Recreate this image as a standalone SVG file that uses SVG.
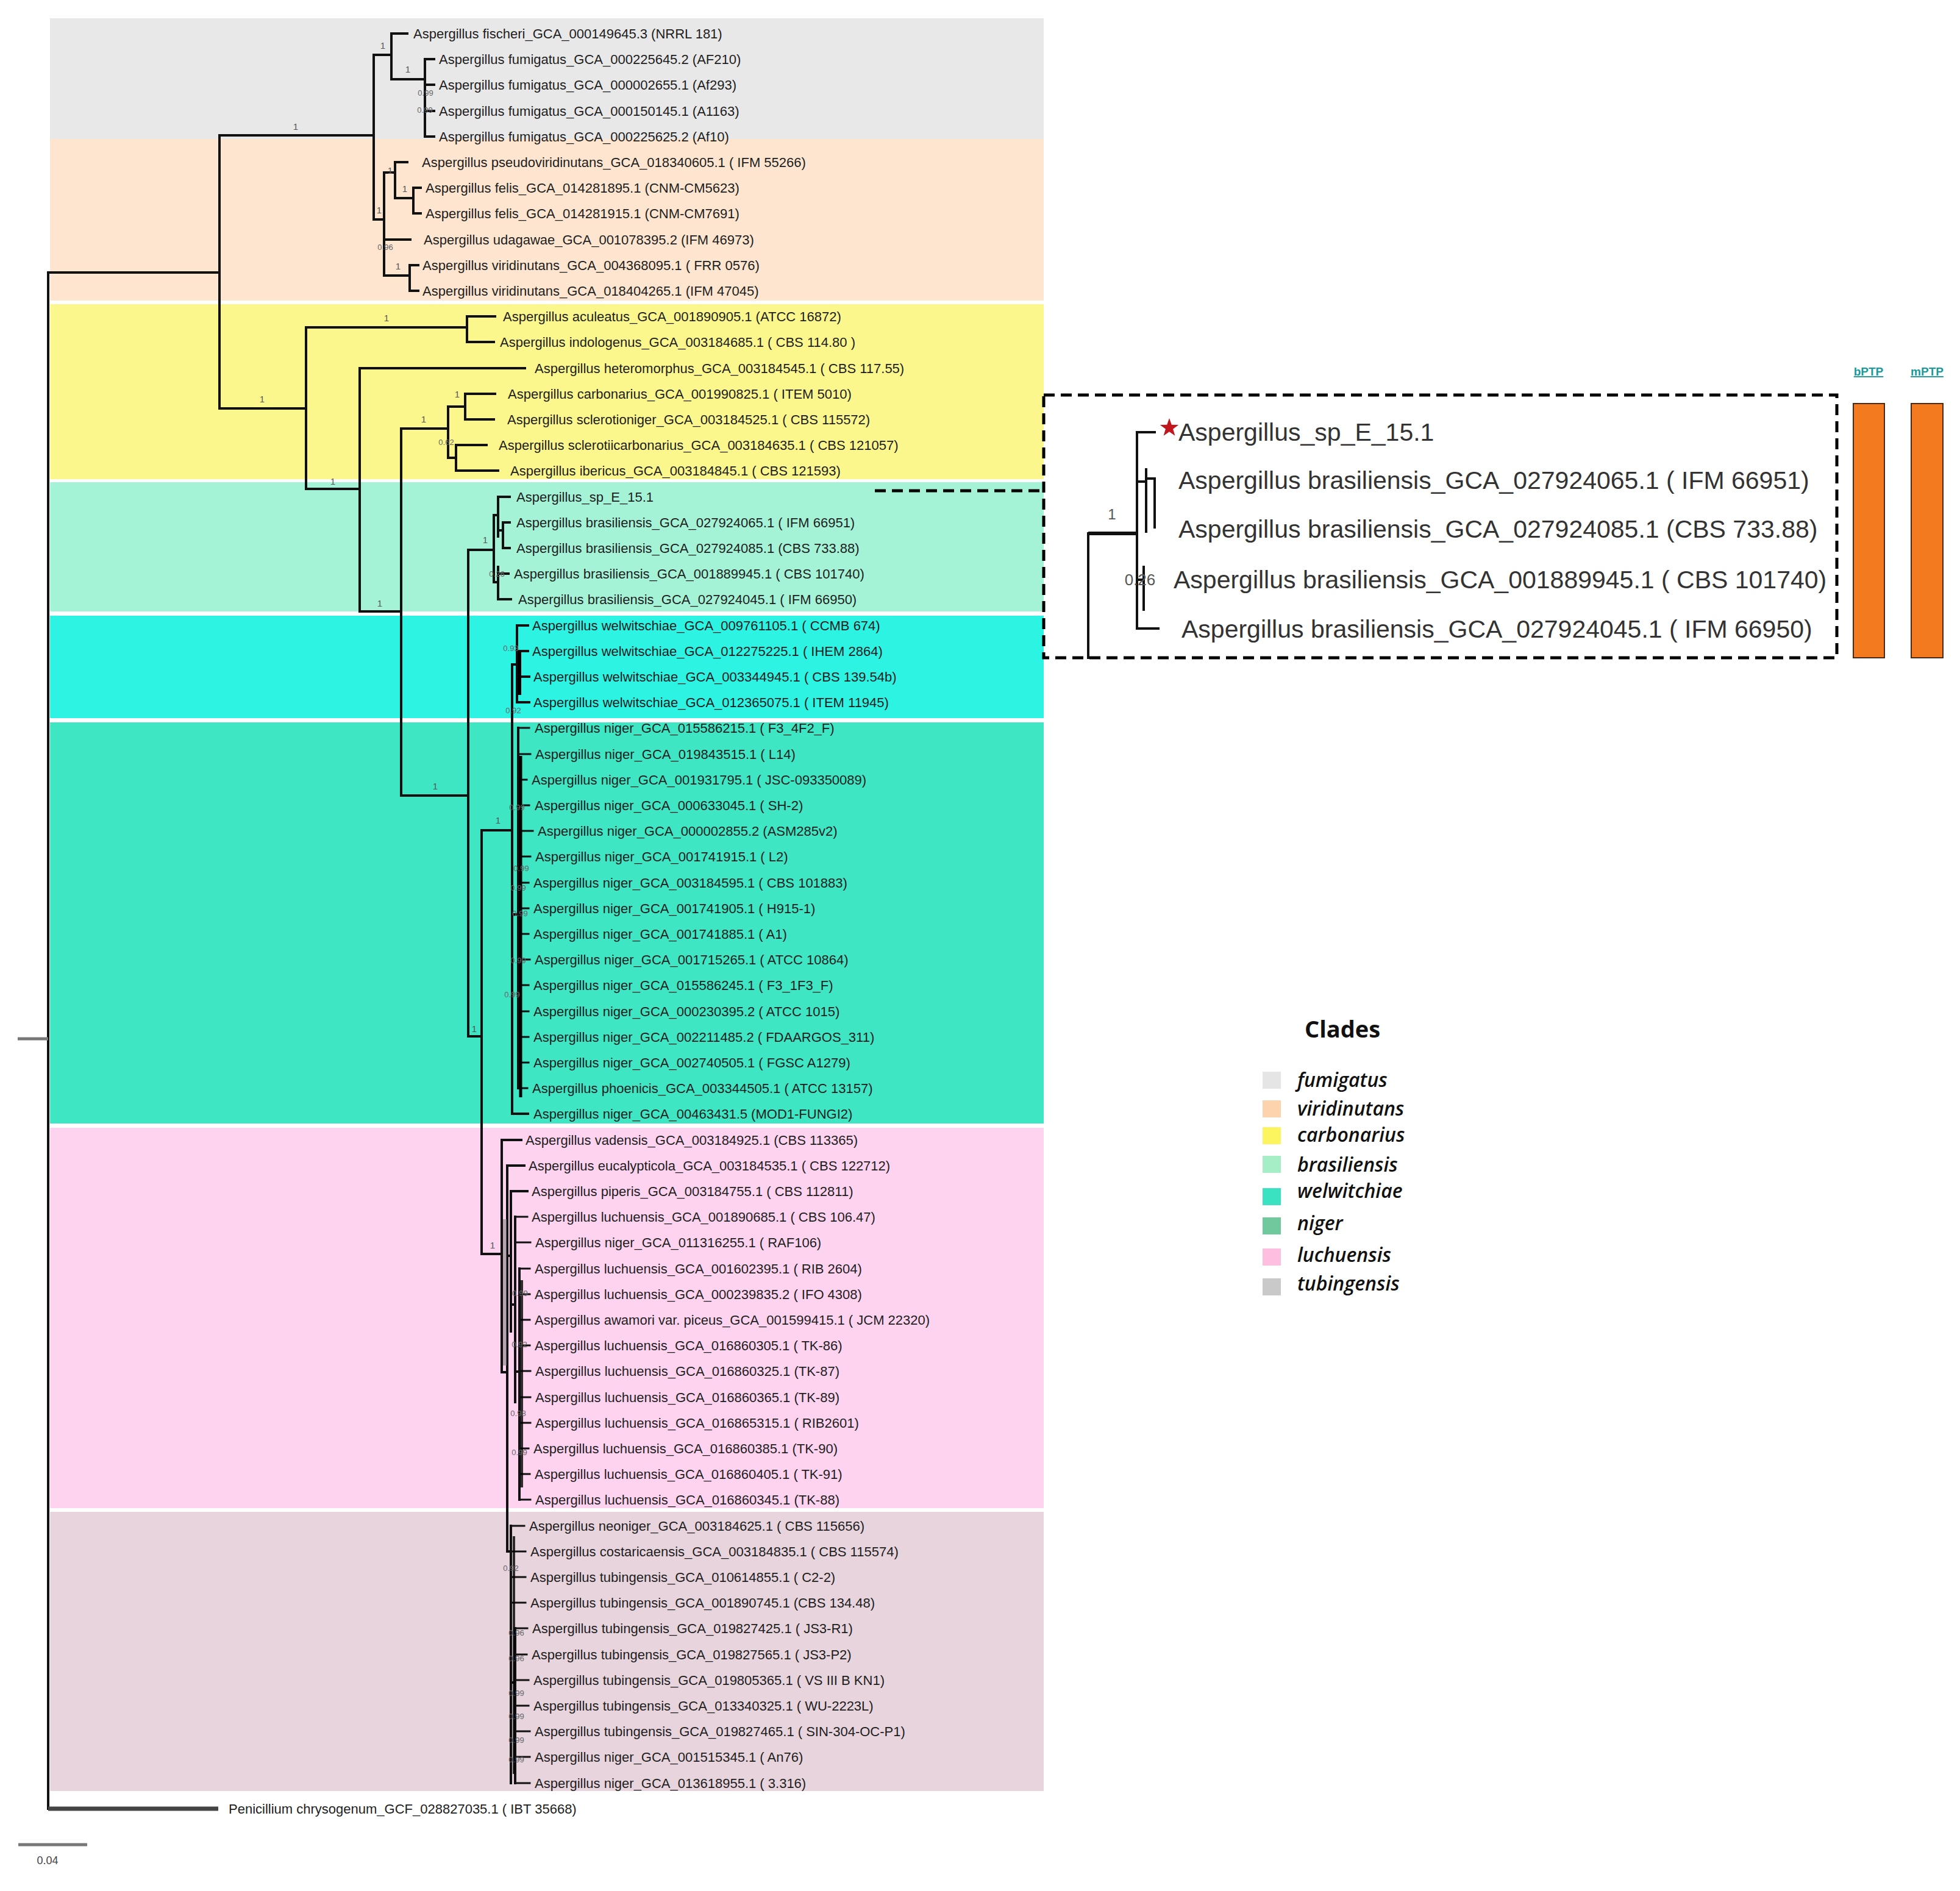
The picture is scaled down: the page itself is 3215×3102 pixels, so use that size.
<svg xmlns="http://www.w3.org/2000/svg" width="3215" height="3102" viewBox="0 0 3215 3102">
<style>
.leaf{font-family:"Liberation Sans",Arial,sans-serif;font-size:22px;fill:#1e1e1e}
.ins{font-family:"Liberation Sans",Arial,sans-serif;font-size:41px;fill:#333}
.sup{font-family:"Liberation Sans",Arial,sans-serif;font-size:13px;fill:#666;text-anchor:middle}
.sup1{font-family:"Liberation Sans",Arial,sans-serif;font-size:15px;fill:#555;text-anchor:middle}
.br{stroke:#111;stroke-width:4;fill:none;stroke-linecap:square}
.tn{stroke:#111;stroke-width:3;fill:none;stroke-linecap:square}
.tk{stroke:#000;stroke-width:6;fill:none}
.dash{stroke:#000;stroke-width:5;fill:none;stroke-dasharray:18 10}
.lg{font-family:"Open Sans","DejaVu Sans",sans-serif;font-style:italic;font-weight:600;font-size:32px;fill:#111}
.ptp{font-family:"Liberation Sans",Arial,sans-serif;font-weight:bold;font-size:19px;fill:#179a9a;text-anchor:middle;text-decoration:underline}
.bar{fill:#F47A20;stroke:#4a2a10;stroke-width:2}
</style>
<rect width="3215" height="3102" fill="#fff"/>
<g id="clade-bands">
<rect x="82" y="30" width="1630" height="198" fill="#E8E8E8"/>
<rect x="82" y="228" width="1630" height="265" fill="#FDE5CF"/>
<rect x="82" y="499" width="1630" height="287" fill="#FBF78D"/>
<rect x="82" y="791" width="1630" height="212" fill="#A4F3D6"/>
<rect x="82" y="1010" width="1630" height="168" fill="#2DF3E3"/>
<rect x="82" y="1185" width="1630" height="658" fill="#3EE6C4"/>
<rect x="82" y="1850" width="1630" height="624" fill="#FED3F0"/>
<rect x="82" y="2480" width="1630" height="458" fill="#E8D4DD"/>
</g>
<g id="branches">
<path class="br" d="M79,447 V2967 M79,447 H360 M360,222 V670 M360,222 H613 M360,670 H502"/>
<path d="M29,1704 H79" stroke="#777" stroke-width="5"/>
<path d="M79,2967 H358" stroke="#444" stroke-width="7"/>
<path class="br" d="M613,90 V360 M613,90 H642 M642,55 V130 M642,55 H668 M642,130 H697 M697,97 V224 M697,97 H712 M697,139 H712 M697,182 H712 M697,224 H712"/>
<path class="br" d="M613,360 H630 M630,283 V452 M630,283 H648 M648,266 V325 M648,266 H668 M648,325 H678 M678,308 V350 M678,308 H690 M678,350 H690 M630,393 H673 M630,452 H672 M672,435 V477 M672,435 H686 M672,477 H686"/>
<path class="br" d="M502,537 V802 M502,537 H766 M766,519 V561 M766,519 H812 M766,561 H810 M502,802 H590 M590,604 V1003 M590,604 H861 M590,1003 H658 M658,703 V1305 M658,703 H735 M735,667 V751 M735,667 H763 M763,646 V688 M763,646 H812 M763,688 H810 M735,751 H748 M748,730 V772 M748,730 H798 M748,772 H817"/>
<path class="br" d="M658,1305 H768 M768,902 V1700 M768,902 H810 M810,845 V955 M810,845 H817 M817,815 V880 M817,815 H836 M817,870 H825 M825,857 V899 M825,857 H836 M825,899 H836 M810,955 H817 M817,930 V983 M817,941 H834 M817,983 H838"/>
<path class="br" d="M768,1700 H790 M790,1362 V2057 M790,1362 H840 M840,1090 V1827 M840,1090 H848 M848,1026 V1152 M848,1026 H866 M848,1068 H866 M848,1110 H868 M848,1152 H868 M840,1500 H850 M850,1194 V1785 M840,1827 H866"/>
<path class="tk" d="M852,1068 V1140"/>
<path class="tn" d="M850,1194 H868 M850,1237 H870 M850,1279 H864 M850,1321 H868 M850,1363 H874 M850,1405 H870 M850,1448 H867 M850,1490 H867 M850,1532 H867 M850,1574 H869 M850,1616 H867 M850,1659 H867 M850,1701 H867 M850,1743 H867 M850,1785 H865"/>
<path d="M854,1240 V1800" stroke="#000" stroke-width="5"/>
<path class="br" d="M790,2057 H823 M823,1870 V2251 M823,1870 H855 M823,2251 H832 M832,1912 V2545 M832,1912 H860 M832,2060 H838 M838,1954 V2184 M838,1954 H865 M838,2140 H845 M845,1996 V2300 M845,2250 H852 M852,2081 V2460 M832,2545 H838 M838,2503 V2925 M838,2760 H845 M845,2671 V2925"/>
<path class="tn" d="M845,1996 H865 M845,2038 H870 M852,2081 H869 M852,2123 H869 M852,2165 H869 M852,2207 H869 M852,2249 H870 M852,2292 H870 M852,2334 H870 M852,2376 H867 M852,2418 H869 M852,2460 H870 M838,2503 H860 M838,2545 H862 M838,2587 H862 M838,2629 H862 M845,2671 H865 M845,2714 H864 M845,2756 H867 M845,2798 H867 M845,2840 H869 M845,2882 H869 M845,2925 H869"/>
<path d="M856,2100 V2440 M843,2520 V2910" stroke="#000" stroke-width="4" opacity="0.8"/>
<path d="M828,2000 V2240" stroke="#888" stroke-width="6" opacity="0.6"/>
<path class="dash" d="M1435,805 H1712"/>
</g>
<g id="support-values">
<text class="sup1" x="485" y="213">1</text>
<text class="sup1" x="430" y="660">1</text>
<text class="sup1" x="628" y="80">1</text>
<text class="sup1" x="669" y="119">1</text>
<text class="sup" x="698" y="157">0.99</text>
<text class="sup" x="697" y="185">0.99</text>
<text class="sup1" x="622" y="350">1</text>
<text class="sup1" x="640" y="285">1</text>
<text class="sup1" x="664" y="315">1</text>
<text class="sup" x="632" y="410">0.96</text>
<text class="sup1" x="653" y="442">1</text>
<text class="sup1" x="634" y="527">1</text>
<text class="sup1" x="546" y="795">1</text>
<text class="sup1" x="695" y="693">1</text>
<text class="sup1" x="750" y="652">1</text>
<text class="sup" x="732" y="730">0.62</text>
<text class="sup1" x="623" y="995">1</text>
<text class="sup1" x="714" y="1295">1</text>
<text class="sup1" x="796" y="891">1</text>
<text class="sup" x="815" y="946">0.26</text>
<text class="sup" x="838" y="1068">0.93</text>
<text class="sup" x="842" y="1170">0.92</text>
<text class="sup1" x="817" y="1351">1</text>
<text class="sup1" x="778" y="1693">1</text>
<text class="sup" x="848" y="1329">0.99</text>
<text class="sup" x="855" y="1429">0.99</text>
<text class="sup" x="850" y="1461">0.99</text>
<text class="sup" x="853" y="1503">0.99</text>
<text class="sup" x="850" y="1580">0.99</text>
<text class="sup" x="840" y="1636">0.99</text>
<text class="sup1" x="808" y="2048">1</text>
<text class="sup" x="853" y="2126">0.99</text>
<text class="sup" x="852" y="2210">0.92</text>
<text class="sup" x="850" y="2323">0.98</text>
<text class="sup" x="852" y="2387">0.99</text>
<text class="sup" x="838" y="2577">0.92</text>
<text class="sup" x="847" y="2683">0.96</text>
<text class="sup" x="847" y="2725">0.96</text>
<text class="sup" x="847" y="2782">0.99</text>
<text class="sup" x="847" y="2820">0.99</text>
<text class="sup" x="847" y="2859">0.99</text>
<text class="sup" x="847" y="2891">0.99</text>
</g>
<g id="leaves">
<g id="leaf-1"><text class="leaf" x="678" y="63">Aspergillus fischeri_GCA_000149645.3 (NRRL 181)</text></g>
<g id="leaf-2"><text class="leaf" x="720" y="105">Aspergillus fumigatus_GCA_000225645.2 (AF210)</text></g>
<g id="leaf-3"><text class="leaf" x="720" y="147">Aspergillus fumigatus_GCA_000002655.1 (Af293)</text></g>
<g id="leaf-4"><text class="leaf" x="720" y="190">Aspergillus fumigatus_GCA_000150145.1 (A1163)</text></g>
<g id="leaf-5"><text class="leaf" x="720" y="232">Aspergillus fumigatus_GCA_000225625.2 (Af10)</text></g>
<g id="leaf-6"><text class="leaf" x="692" y="274">Aspergillus pseudoviridinutans_GCA_018340605.1 ( IFM 55266)</text></g>
<g id="leaf-7"><text class="leaf" x="698" y="316">Aspergillus felis_GCA_014281895.1 (CNM-CM5623)</text></g>
<g id="leaf-8"><text class="leaf" x="698" y="358">Aspergillus felis_GCA_014281915.1 (CNM-CM7691)</text></g>
<g id="leaf-9"><text class="leaf" x="695" y="401">Aspergillus udagawae_GCA_001078395.2 (IFM 46973)</text></g>
<g id="leaf-10"><text class="leaf" x="693" y="443">Aspergillus viridinutans_GCA_004368095.1 ( FRR 0576)</text></g>
<g id="leaf-11"><text class="leaf" x="693" y="485">Aspergillus viridinutans_GCA_018404265.1 (IFM 47045)</text></g>
<g id="leaf-12"><text class="leaf" x="825" y="527">Aspergillus aculeatus_GCA_001890905.1 (ATCC 16872)</text></g>
<g id="leaf-13"><text class="leaf" x="820" y="569">Aspergillus indologenus_GCA_003184685.1 ( CBS 114.80 )</text></g>
<g id="leaf-14"><text class="leaf" x="877" y="612">Aspergillus heteromorphus_GCA_003184545.1 ( CBS 117.55)</text></g>
<g id="leaf-15"><text class="leaf" x="833" y="654">Aspergillus carbonarius_GCA_001990825.1 ( ITEM 5010)</text></g>
<g id="leaf-16"><text class="leaf" x="832" y="696">Aspergillus sclerotioniger_GCA_003184525.1 ( CBS 115572)</text></g>
<g id="leaf-17"><text class="leaf" x="818" y="738">Aspergillus sclerotiicarbonarius_GCA_003184635.1 ( CBS 121057)</text></g>
<g id="leaf-18"><text class="leaf" x="837" y="780">Aspergillus ibericus_GCA_003184845.1 ( CBS 121593)</text></g>
<g id="leaf-19"><text class="leaf" x="847" y="823">Aspergillus_sp_E_15.1</text></g>
<g id="leaf-20"><text class="leaf" x="847" y="865">Aspergillus brasiliensis_GCA_027924065.1 ( IFM 66951)</text></g>
<g id="leaf-21"><text class="leaf" x="847" y="907">Aspergillus brasiliensis_GCA_027924085.1 (CBS 733.88)</text></g>
<g id="leaf-22"><text class="leaf" x="843" y="949">Aspergillus brasiliensis_GCA_001889945.1 ( CBS 101740)</text></g>
<g id="leaf-23"><text class="leaf" x="850" y="991">Aspergillus brasiliensis_GCA_027924045.1 ( IFM 66950)</text></g>
<g id="leaf-24"><text class="leaf" x="873" y="1034">Aspergillus welwitschiae_GCA_009761105.1 ( CCMB 674)</text></g>
<g id="leaf-25"><text class="leaf" x="873" y="1076">Aspergillus welwitschiae_GCA_012275225.1 ( IHEM 2864)</text></g>
<g id="leaf-26"><text class="leaf" x="875" y="1118">Aspergillus welwitschiae_GCA_003344945.1 ( CBS 139.54b)</text></g>
<g id="leaf-27"><text class="leaf" x="875" y="1160">Aspergillus welwitschiae_GCA_012365075.1 ( ITEM 11945)</text></g>
<g id="leaf-28"><text class="leaf" x="877" y="1202">Aspergillus niger_GCA_015586215.1 ( F3_4F2_F)</text></g>
<g id="leaf-29"><text class="leaf" x="878" y="1245">Aspergillus niger_GCA_019843515.1 ( L14)</text></g>
<g id="leaf-30"><text class="leaf" x="872" y="1287">Aspergillus niger_GCA_001931795.1 ( JSC-093350089)</text></g>
<g id="leaf-31"><text class="leaf" x="877" y="1329">Aspergillus niger_GCA_000633045.1 ( SH-2)</text></g>
<g id="leaf-32"><text class="leaf" x="882" y="1371">Aspergillus niger_GCA_000002855.2 (ASM285v2)</text></g>
<g id="leaf-33"><text class="leaf" x="878" y="1413">Aspergillus niger_GCA_001741915.1 ( L2)</text></g>
<g id="leaf-34"><text class="leaf" x="875" y="1456">Aspergillus niger_GCA_003184595.1 ( CBS 101883)</text></g>
<g id="leaf-35"><text class="leaf" x="875" y="1498">Aspergillus niger_GCA_001741905.1 ( H915-1)</text></g>
<g id="leaf-36"><text class="leaf" x="875" y="1540">Aspergillus niger_GCA_001741885.1 ( A1)</text></g>
<g id="leaf-37"><text class="leaf" x="877" y="1582">Aspergillus niger_GCA_001715265.1 ( ATCC 10864)</text></g>
<g id="leaf-38"><text class="leaf" x="875" y="1624">Aspergillus niger_GCA_015586245.1 ( F3_1F3_F)</text></g>
<g id="leaf-39"><text class="leaf" x="875" y="1667">Aspergillus niger_GCA_000230395.2 ( ATCC 1015)</text></g>
<g id="leaf-40"><text class="leaf" x="875" y="1709">Aspergillus niger_GCA_002211485.2 ( FDAARGOS_311)</text></g>
<g id="leaf-41"><text class="leaf" x="875" y="1751">Aspergillus niger_GCA_002740505.1 ( FGSC A1279)</text></g>
<g id="leaf-42"><text class="leaf" x="873" y="1793">Aspergillus phoenicis_GCA_003344505.1 ( ATCC 13157)</text></g>
<g id="leaf-43"><text class="leaf" x="875" y="1835">Aspergillus niger_GCA_00463431.5 (MOD1-FUNGI2)</text></g>
<g id="leaf-44"><text class="leaf" x="862" y="1878">Aspergillus vadensis_GCA_003184925.1 (CBS 113365)</text></g>
<g id="leaf-45"><text class="leaf" x="867" y="1920">Aspergillus eucalypticola_GCA_003184535.1 ( CBS 122712)</text></g>
<g id="leaf-46"><text class="leaf" x="872" y="1962">Aspergillus piperis_GCA_003184755.1 ( CBS 112811)</text></g>
<g id="leaf-47"><text class="leaf" x="872" y="2004">Aspergillus luchuensis_GCA_001890685.1 ( CBS 106.47)</text></g>
<g id="leaf-48"><text class="leaf" x="878" y="2046">Aspergillus niger_GCA_011316255.1 ( RAF106)</text></g>
<g id="leaf-49"><text class="leaf" x="877" y="2089">Aspergillus luchuensis_GCA_001602395.1 ( RIB 2604)</text></g>
<g id="leaf-50"><text class="leaf" x="877" y="2131">Aspergillus luchuensis_GCA_000239835.2 ( IFO 4308)</text></g>
<g id="leaf-51"><text class="leaf" x="877" y="2173">Aspergillus awamori var. piceus_GCA_001599415.1 ( JCM 22320)</text></g>
<g id="leaf-52"><text class="leaf" x="877" y="2215">Aspergillus luchuensis_GCA_016860305.1 ( TK-86)</text></g>
<g id="leaf-53"><text class="leaf" x="878" y="2257">Aspergillus luchuensis_GCA_016860325.1 (TK-87)</text></g>
<g id="leaf-54"><text class="leaf" x="878" y="2300">Aspergillus luchuensis_GCA_016860365.1 (TK-89)</text></g>
<g id="leaf-55"><text class="leaf" x="878" y="2342">Aspergillus luchuensis_GCA_016865315.1 ( RIB2601)</text></g>
<g id="leaf-56"><text class="leaf" x="875" y="2384">Aspergillus luchuensis_GCA_016860385.1 (TK-90)</text></g>
<g id="leaf-57"><text class="leaf" x="877" y="2426">Aspergillus luchuensis_GCA_016860405.1 ( TK-91)</text></g>
<g id="leaf-58"><text class="leaf" x="878" y="2468">Aspergillus luchuensis_GCA_016860345.1 (TK-88)</text></g>
<g id="leaf-59"><text class="leaf" x="868" y="2511">Aspergillus neoniger_GCA_003184625.1 ( CBS 115656)</text></g>
<g id="leaf-60"><text class="leaf" x="870" y="2553">Aspergillus costaricaensis_GCA_003184835.1 ( CBS 115574)</text></g>
<g id="leaf-61"><text class="leaf" x="870" y="2595">Aspergillus tubingensis_GCA_010614855.1 ( C2-2)</text></g>
<g id="leaf-62"><text class="leaf" x="870" y="2637">Aspergillus tubingensis_GCA_001890745.1 (CBS 134.48)</text></g>
<g id="leaf-63"><text class="leaf" x="873" y="2679">Aspergillus tubingensis_GCA_019827425.1 ( JS3-R1)</text></g>
<g id="leaf-64"><text class="leaf" x="872" y="2722">Aspergillus tubingensis_GCA_019827565.1 ( JS3-P2)</text></g>
<g id="leaf-65"><text class="leaf" x="875" y="2764">Aspergillus tubingensis_GCA_019805365.1 ( VS III B KN1)</text></g>
<g id="leaf-66"><text class="leaf" x="875" y="2806">Aspergillus tubingensis_GCA_013340325.1 ( WU-2223L)</text></g>
<g id="leaf-67"><text class="leaf" x="877" y="2848">Aspergillus tubingensis_GCA_019827465.1 ( SIN-304-OC-P1)</text></g>
<g id="leaf-68"><text class="leaf" x="877" y="2890">Aspergillus niger_GCA_001515345.1 ( An76)</text></g>
<g id="leaf-69"><text class="leaf" x="877" y="2933">Aspergillus niger_GCA_013618955.1 ( 3.316)</text></g>
<g id="leaf-70"><text class="leaf" x="375" y="2975">Penicillium chrysogenum_GCF_028827035.1 ( IBT 35668)</text></g>
</g>
<g id="scale-bar">
<path d="M30,3026 H143" stroke="#777" stroke-width="5"/>
<text x="78" y="3058" font-family="Liberation Sans,Arial,sans-serif" font-size="18" fill="#444" text-anchor="middle">0.04</text>
</g>
<g id="inset">
<rect class="dash" x="1712" y="648" width="1301" height="431"/>
<path class="br" d="M1785,875 V1079 M1865,709 V1031 M1865,709 H1894 M1865,790 H1880 M1880,770 V872 M1880,785 H1894 M1894,785 V865 M1865,951 H1876 M1876,930 V1000 M1865,1031 H1900"/>
<path d="M1785,875 H1865" stroke="#111" stroke-width="6"/>
<text x="1824" y="852" font-family="Liberation Sans,Arial,sans-serif" font-size="24" fill="#555" text-anchor="middle">1</text>
<text x="1870" y="960" font-family="Liberation Sans,Arial,sans-serif" font-size="26" fill="#555" text-anchor="middle">0.26</text>
<polygon points="1918,686 1921.8,696.8 1933.2,697 1924.1,703.8 1927.4,714.7 1918,708.2 1908.6,714.7 1911.9,703.8 1902.8,697 1914.2,696.8" fill="#C0161C"/>
<text class="ins" x="1933" y="723">Aspergillus_sp_E_15.1</text>
<text class="ins" x="1933" y="802">Aspergillus brasiliensis_GCA_027924065.1 ( IFM 66951)</text>
<text class="ins" x="1933" y="882">Aspergillus brasiliensis_GCA_027924085.1 (CBS 733.88)</text>
<text class="ins" x="1925" y="965">Aspergillus brasiliensis_GCA_001889945.1 ( CBS 101740)</text>
<text class="ins" x="1938" y="1046">Aspergillus brasiliensis_GCA_027924045.1 ( IFM 66950)</text>
</g>
<g id="ptp-bars">
<rect class="bar" x="3040" y="662" width="51" height="417"/>
<rect class="bar" x="3135" y="662" width="52" height="417"/>
<text class="ptp" x="3065" y="616">bPTP</text>
<text class="ptp" x="3161" y="616">mPTP</text>
</g>
<g id="legend">
<text x="2140" y="1702" font-family="Open Sans,DejaVu Sans,sans-serif" font-weight="700" font-size="38" fill="#111">Clades</text>
<rect x="2071" y="1758" width="30" height="28" fill="#E5E5E5"/><text class="lg" x="2128" y="1783">fumigatus</text>
<rect x="2071" y="1805" width="30" height="28" fill="#FDD3AE"/><text class="lg" x="2128" y="1830">viridinutans</text>
<rect x="2071" y="1849" width="30" height="28" fill="#FCF55F"/><text class="lg" x="2128" y="1873">carbonarius</text>
<rect x="2071" y="1896" width="30" height="28" fill="#A6EEC6"/><text class="lg" x="2128" y="1922">brasiliensis</text>
<rect x="2071" y="1949" width="30" height="28" fill="#3BE2C2"/><text class="lg" x="2128" y="1965">welwitchiae</text>
<rect x="2071" y="1997" width="30" height="28" fill="#6FC99C"/><text class="lg" x="2128" y="2018">niger</text>
<rect x="2071" y="2048" width="30" height="28" fill="#FDBEDF"/><text class="lg" x="2128" y="2070">luchuensis</text>
<rect x="2071" y="2097" width="30" height="28" fill="#C9C9C9"/><text class="lg" x="2128" y="2117">tubingensis</text>
</g>
</svg>
